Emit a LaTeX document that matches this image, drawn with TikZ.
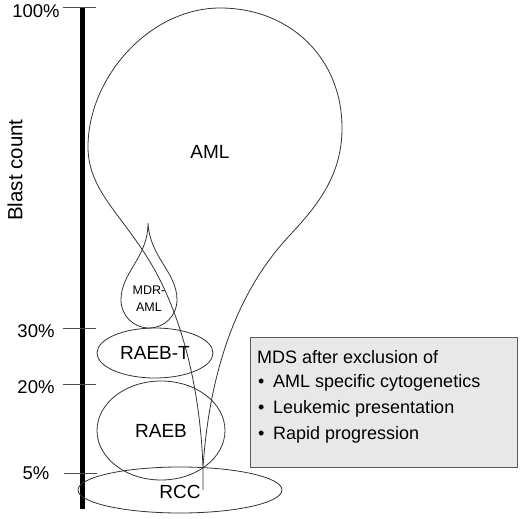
\documentclass[tikz,border=0pt]{standalone}
\usepackage{fontspec}
\setmainfont{Liberation Sans}
\usetikzlibrary{shapes.geometric}
\begin{document}
\begin{tikzpicture}[x=1pt,y=-1pt,
  outline/.style={draw=black!80, line width=0.8pt},
  ell/.style={outline, ellipse, inner sep=0pt, font=\fontsize{19}{22}\selectfont},
  lbl/.style={inner sep=0pt, font=\fontsize{19}{22}\selectfont},
  pct/.style={inner sep=0pt, font=\fontsize{18.5}{22}\selectfont},
  tickln/.style={draw=black!70, line width=0.8pt},
  boxtxt/.style={inner sep=0pt, anchor=west, font=\fontsize{18}{22}\selectfont}]
\useasboundingbox (0,0) rectangle (520,519);
% axis
\coordinate (axtop) at (82.5,7);
\coordinate (axbot) at (82.5,509);
\draw[line width=5.5pt] (axtop) -- (axbot);
% ticks
\coordinate (t100a) at (63,7);   \coordinate (t100b) at (96,7);
\coordinate (t30a) at (63,328);  \coordinate (t30b) at (96,328);
\coordinate (t20a) at (63,384);  \coordinate (t20b) at (96,384);
\coordinate (t5a) at (64,473);   \coordinate (t5b) at (97,473);
\draw[tickln] (t100a) -- (t100b);
\draw[tickln] (t30a) -- (t30b);
\draw[tickln] (t20a) -- (t20b);
\draw[tickln] (t5a) -- (t5b);
\node[pct] (p100) at (36,11) {100\%};
\node[pct] (p30) at (36,331) {30\%};
\node[pct] (p20) at (36,387) {20\%};
\node[pct] (p5) at (36,473) {5\%};
\node[lbl, rotate=90, font=\fontsize{20.5}{24}\selectfont] (blast) at (15,170) {Blast count};
% AML shape
\draw[outline] (203,490) -- (203,468)
  .. controls (201,410) and (190,340) .. (160,280)
  .. controls (130,220) and (88,195) .. (88,147)
  .. controls (88,77) and (150,8) .. (220,8)
  .. controls (290,8) and (342,58) .. (342,128)
  .. controls (342,175) and (318,205) .. (290,235)
  .. controls (262,265) and (212,330) .. (203,468);
\node[lbl] (aml) at (210,152) {AML};
% MDR-AML drop
\draw[outline] (148,223) .. controls (148,258) and (121,272) .. (121,300)
  .. controls (121,315.5) and (133.5,328) .. (149,328)
  .. controls (164.5,328) and (177,315.5) .. (177,300)
  .. controls (177,272) and (150,258) .. (148,223) -- cycle;
\node[inner sep=0pt, align=center, font=\fontsize{12.5}{17}\selectfont] (mdr) at (149,299) {MDR-\\AML};
% ellipses
\node[ell, minimum width=116pt, minimum height=50pt] (raebt) at (155,353) {RAEB-T};
\node[ell, minimum width=128pt, minimum height=99pt] (raeb) at (161,430.5) {RAEB};
\node[ell, minimum width=204pt, minimum height=46pt] (rcc) at (180,490) {};
\node[lbl] (rcctxt) at (180,492) {RCC};
% box
\node[draw=black!65, fill=black!9, line width=0.9pt, minimum width=267pt, minimum height=130pt, anchor=north west, inner sep=0pt] (mds) at (250,337) {};
\node[boxtxt] (m0) at (257,357) {MDS after exclusion of};
\node[boxtxt] (b1) at (258,383) {\textbullet};
\node[boxtxt] (m1) at (273,383) {AML specific cytogenetics};
\node[boxtxt] (b2) at (258,409) {\textbullet};
\node[boxtxt] (m2) at (273,409) {Leukemic presentation};
\node[boxtxt] (b3) at (258,435) {\textbullet};
\node[boxtxt] (m3) at (273,435) {Rapid progression};
\end{tikzpicture}
\end{document}
